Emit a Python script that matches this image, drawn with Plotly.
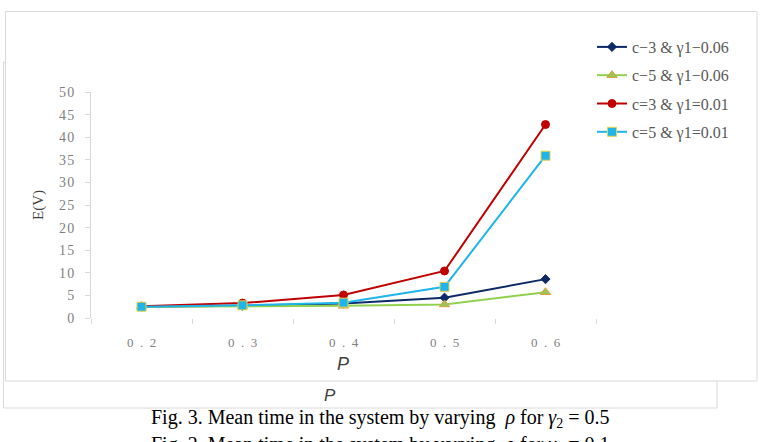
import plotly.graph_objects as go

# ---- data ----
rho = ["0.2", "0.3", "0.4", "0.5", "0.6"]
series_names = ["c−3 & γ1−0.06", "c−5 & γ1−0.06", "c=3 & γ1=0.01", "c=5 & γ1=0.01"]
c3_g006 = [2.5, 2.7, 3.2, 4.5, 8.6]
c5_g006 = [2.5, 2.6, 2.7, 3.0, 5.7]
c3_g001 = [2.6, 3.3, 5.1, 10.4, 42.8]
c5_g001 = [2.5, 2.8, 3.4, 6.9, 35.9]
y_ticks = [0, 5, 10, 15, 20, 25, 30, 35, 40, 45, 50]
x_ticktext = ["\u2002".join(list(s)) for s in rho]
y_ticktext = ["\u200a".join(list(str(v))) for v in y_ticks]

W_PX, H_PX = 761, 442
L, R, T, B = 91, 596, 92, 318
PW, PH = R - L, B - T


def px(x):
    return (x - L) / PW


def py(y):
    return (B - y) / PH


styles = [
    dict(color="#0d2a66", symbol="diamond", size=7, mfill="#0d2a66", mline="#0d2a66"),
    dict(color="#92d050", symbol="triangle-up", size=9, mfill="#9cc35a", mline="#d9a13a"),
    dict(color="#c00000", symbol="circle", size=8, mfill="#c00000", mline="#c00000"),
    dict(color="#1fb4ea", symbol="square", size=9, mfill="#1fb4ea", mline="#e6d44a"),
]
values = [c3_g006, c5_g006, c3_g001, c5_g001]

fig = go.Figure()
for i, (name, vals, st) in enumerate(zip(series_names, values, styles)):
    fig.add_trace(go.Scatter(
        x=rho, y=vals, name=name, mode="lines+markers",
        legendgroup=f"g{i}",
        line=dict(color=st["color"], width=2),
        marker=dict(symbol=st["symbol"], size=st["size"], color=st["mfill"],
                    line=dict(color=st["mline"], width=1)),
    ))

serif = "Liberation Serif, Times New Roman, serif"

fig.update_layout(
    width=W_PX, height=H_PX,
    margin=dict(l=L, r=W_PX - R, t=T, b=H_PX - B, pad=0),
    paper_bgcolor="white",
    plot_bgcolor="rgba(0,0,0,0)",
    showlegend=True,
    legend=dict(x=px(592), y=py(30), xanchor="left", yanchor="top",
                font=dict(family=serif, size=16, color="#595959"),
                tracegroupgap=4.5, bgcolor="rgba(0,0,0,0)"),
    xaxis=dict(type="category", tickvals=rho, ticktext=x_ticktext,
               range=[-0.5, 4.5], showgrid=False, zeroline=False, showline=False,
               ticks="outside", tickson="boundaries", ticklen=5, tickcolor="#d9d9d9",
               ticklabelstandoff=15,
               tickfont=dict(family=serif, size=13, color="#7f7f7f")),
    yaxis=dict(range=[0, 50], tickvals=y_ticks, ticktext=y_ticktext,
               showgrid=False, zeroline=False,
               showline=True, linecolor="#d9d9d9", linewidth=1,
               ticks="outside", ticklen=5, tickcolor="#d9d9d9",
               ticklabelstandoff=8,
               tickfont=dict(family=serif, size=14, color="#7f7f7f")),
    shapes=[
        dict(type="rect", xref="paper", yref="paper", layer="below",
             x0=px(3.5), x1=px(717), y0=py(408), y1=py(62),
             line=dict(color="#d9d9d9", width=1), fillcolor="white"),
        dict(type="rect", xref="paper", yref="paper", layer="below",
             x0=px(5.5), x1=px(757), y0=py(381), y1=py(11.5),
             line=dict(color="#d9d9d9", width=1), fillcolor="white"),
    ],
    annotations=[
        dict(text="E(V)", xref="paper", yref="paper", x=px(38), y=py(205),
             textangle=-90, showarrow=False, xanchor="center", yanchor="middle",
             font=dict(family=serif, size=15, color="#404040")),
        dict(text="<i>P</i>", xref="paper", yref="paper", x=px(343), y=py(364),
             showarrow=False, xanchor="center", yanchor="middle",
             font=dict(family="Liberation Sans, Arial, sans-serif", size=18, color="#404040")),
        dict(text="<i>P</i>", xref="paper", yref="paper", x=px(330), y=py(396),
             showarrow=False, xanchor="center", yanchor="middle",
             font=dict(family="Liberation Sans, Arial, sans-serif", size=17, color="#404040")),
        dict(text="Fig. 3. Mean time in the system by varying  <i>ρ</i> for <i>γ</i><sub>2</sub> = 0.5",
             xref="paper", yref="paper", x=px(380), y=py(418),
             showarrow=False, xanchor="center", yanchor="middle",
             font=dict(family=serif, size=20, color="black")),
        dict(text="Fig. 2. Mean time in the system by varying  <i>ρ</i> for <i>γ</i><sub>2</sub> = 0.1",
             xref="paper", yref="paper", x=px(380), y=py(445),
             showarrow=False, xanchor="center", yanchor="middle",
             font=dict(family=serif, size=20, color="black")),
    ],
)

fig.write_html("out.html")
